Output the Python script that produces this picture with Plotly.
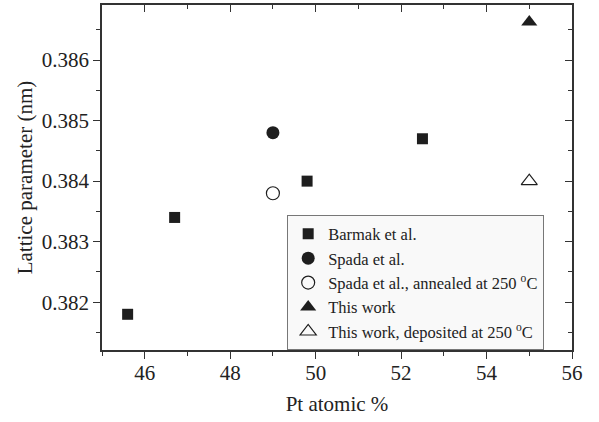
import plotly.graph_objects as go

barmak_x = [45.6, 46.7, 49.8, 52.5]
barmak_y = [0.3818, 0.3834, 0.3840, 0.3847]
spada_x = [49.0]
spada_y = [0.3848]
spada_ann_x = [49.0]
spada_ann_y = [0.3838]
this_x = [55.0]
this_y = [0.38663]
this_dep_x = [55.0]
this_dep_y = [0.3840]

x_range = [45.0, 56.0]
y_range = [0.38121, 0.38691]

FONT = "Liberation Serif"
DARK = "#1e1e1e"
AX = "#333333"

fig = go.Figure()
fig.add_trace(go.Scatter(x=barmak_x, y=barmak_y, mode="markers", name="Barmak et al.",
                         marker=dict(symbol="square", size=11, color=DARK)))
fig.add_trace(go.Scatter(x=spada_x, y=spada_y, mode="markers", name="Spada et al.",
                         marker=dict(symbol="circle", size=13, color=DARK)))
fig.add_trace(go.Scatter(x=spada_ann_x, y=spada_ann_y, mode="markers",
                         name="Spada et al., annealed at 250 <sup>o</sup>C",
                         marker=dict(symbol="circle-open", size=13, color=DARK, line=dict(width=1.2))))
fig.add_trace(go.Scatter(x=this_x, y=this_y, mode="markers", name="This work",
                         marker=dict(symbol="triangle-up", size=14, color=DARK)))
fig.add_trace(go.Scatter(x=this_dep_x, y=this_dep_y, mode="markers",
                         name="This work, deposited at 250 <sup>o</sup>C",
                         marker=dict(symbol="triangle-up-open", size=14, color=DARK, line=dict(width=1.2))))
# dummy trace to activate mirror axes (top/right, inside ticks)
fig.add_trace(go.Scatter(x=[None], y=[None], xaxis="x2", yaxis="y2", showlegend=False,
                         hoverinfo="skip", mode="markers"))

tickfont = dict(family=FONT, size=21, color="#222")

fig.update_layout(
    width=599, height=422,
    margin=dict(l=102, r=27, t=5, b=72),
    plot_bgcolor="white", paper_bgcolor="white",
    font=dict(family=FONT, size=21, color="#222"),
    showlegend=True,
    legend=dict(x=0.394, y=0.39, xanchor="left", yanchor="top",
                bgcolor="#f9f9f9", bordercolor="#777", borderwidth=1,
                font=dict(family=FONT, size=16.5, color="#222"),
                itemwidth=30, tracegroupgap=0),
    xaxis=dict(range=x_range, dtick=2, tick0=46, ticks="outside", ticklen=7, tickwidth=1.3,
               tickcolor=AX, showline=True, linecolor=AX, linewidth=1.5, showgrid=False,
               zeroline=False, tickfont=tickfont, ticklabelstandoff=-4,
               title=dict(text="Pt atomic %", standoff=12, font=tickfont),
               minor=dict(dtick=1, tick0=45, ticks="outside", ticklen=4, tickcolor=AX, tickwidth=1.3)),
    yaxis=dict(range=y_range, dtick=0.001, tick0=0.382, ticks="outside", ticklen=7, tickwidth=1.3,
               tickcolor=AX, showline=True, linecolor=AX, linewidth=1.5, showgrid=False,
               zeroline=False, tickformat=".3f", tickfont=tickfont,
               title=dict(text="Lattice parameter (nm)", standoff=3, font=tickfont),
               minor=dict(dtick=0.0005, tick0=0.3815, ticks="outside", ticklen=4, tickcolor=AX, tickwidth=1.3)),
    xaxis2=dict(range=x_range, overlaying="x", side="top", dtick=2, tick0=46, ticks="inside",
                ticklen=7, tickwidth=1.3, tickcolor=AX, showline=True, linecolor=AX, linewidth=1.5,
                showgrid=False, zeroline=False, showticklabels=False,
                minor=dict(dtick=1, tick0=45, ticks="inside", ticklen=4, tickcolor=AX, tickwidth=1.3)),
    yaxis2=dict(range=y_range, overlaying="y", side="right", dtick=0.001, tick0=0.382, ticks="inside",
                ticklen=7, tickwidth=1.3, tickcolor=AX, showline=True, linecolor=AX, linewidth=1.5,
                showgrid=False, zeroline=False, showticklabels=False,
                minor=dict(dtick=0.0005, tick0=0.3815, ticks="inside", ticklen=4, tickcolor=AX, tickwidth=1.3)),
)

fig.write_html("out.html")
